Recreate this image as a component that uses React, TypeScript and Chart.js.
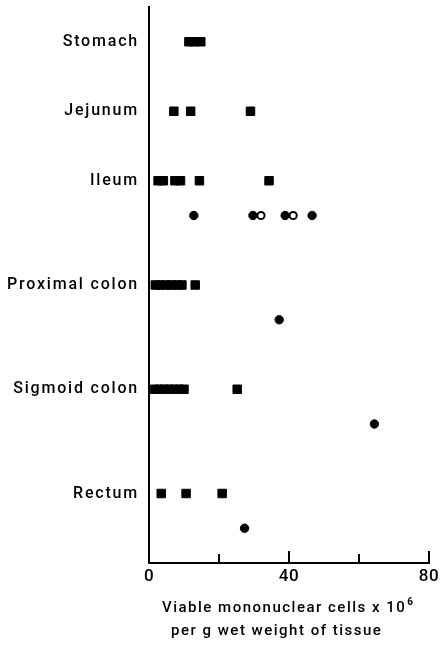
import { useEffect, useRef } from 'react';
import { Chart, registerables } from 'chart.js';

Chart.register(...registerables);

const categories = ['Stomach', 'Jejunum', 'Ileum', 'Proximal colon', 'Sigmoid colon', 'Rectum'];
const categoryRows = [1, 3, 5, 8, 11, 14];
const circleRowOffset = 1;

const squareValues = [
  [11.4, 12.9, 14.8],
  [7.1, 11.9, 29.0],
  [2.6, 4.1, 7.4, 9.0, 14.4, 34.3],
  [1.8, 3.2, 4.8, 6.4, 8.0, 9.4, 13.2],
  [1.6, 3.0, 4.4, 5.8, 7.2, 8.6, 10.0, 25.2],
  [3.5, 10.6, 20.9],
];
const filledCircleValues = [[], [], [12.8, 29.7, 38.9, 46.6], [37.2], [64.4], [27.3]];
const openCircleValues = [[], [], [32.0, 41.2], [], [], []];

const xTickValues = [0, 20, 40, 60, 80];
const xLabelValues = [0, 40, 80];
const axisTitleLine1 = 'Viable mononuclear cells x 10';
const axisTitleSup = '6';
const axisTitleLine2 = 'per g wet weight of tissue';

const FONT = 'Roboto, "DejaVu Sans", sans-serif';

const toPoints = (groups: number[][], offset: number) =>
  groups.flatMap((vals, i) => vals.map((v) => ({ x: v, y: categoryRows[i] + offset })));

const withSpacing = (s: any, spacing: string) => {
  const orig = s.drawLabels;
  if (orig.__wrapped) return;
  const wrapped = function (this: any, area: any) {
    const ctx = this.ctx;
    ctx.save();
    ctx.letterSpacing = spacing;
    orig.call(this, area);
    ctx.restore();
  };
  (wrapped as any).__wrapped = true;
  s.drawLabels = wrapped;
};

const decor = {
  id: 'decor',
  afterDraw(chart: any) {
    const ctx = chart.ctx as CanvasRenderingContext2D;
    const xs = chart.scales.x;
    const area = chart.chartArea;
    ctx.save();
    ctx.strokeStyle = '#000';
    ctx.lineWidth = 2;
    for (const v of xTickValues) {
      const px = Math.round(xs.getPixelForValue(v));
      const len = xLabelValues.includes(v) ? 12 : 9;
      ctx.beginPath();
      ctx.moveTo(px, area.bottom);
      ctx.lineTo(px, area.bottom - len);
      ctx.stroke();
    }
    ctx.fillStyle = '#000';
    ctx.textBaseline = 'middle';
    ctx.textAlign = 'left';
    (ctx as any).letterSpacing = '1.5px';
    ctx.font = `500 15px ${FONT}`;
    const tx = area.left + 13;
    ctx.fillText(axisTitleLine1, tx, area.bottom + 45);
    const w = ctx.measureText(axisTitleLine1).width;
    ctx.font = `bold 10px ${FONT}`;
    ctx.fillText(axisTitleSup, tx + w + 1, area.bottom + 39);
    ctx.font = `500 15px ${FONT}`;
    ctx.fillText(axisTitleLine2, area.left + 22, area.bottom + 68);
    ctx.restore();
  },
};

export default function App() {
  const ref = useRef<HTMLCanvasElement | null>(null);
  useEffect(() => {
    if (!ref.current) return;
    const chart = new Chart(ref.current, {
      type: 'scatter',
      data: {
        datasets: [
          {
            data: toPoints(squareValues, 0),
            pointStyle: 'rect',
            pointRadius: 6,
            backgroundColor: '#000',
            borderColor: '#000',
            borderWidth: 1,
            clip: false,
          },
          {
            data: toPoints(filledCircleValues, circleRowOffset),
            pointStyle: 'circle',
            pointRadius: 4.2,
            backgroundColor: '#000',
            borderColor: '#000',
            borderWidth: 1,
            clip: false,
          },
          {
            data: toPoints(openCircleValues, circleRowOffset),
            pointStyle: 'circle',
            pointRadius: 3.6,
            backgroundColor: '#fff',
            borderColor: '#000',
            borderWidth: 2,
            clip: false,
          },
        ],
      },
      options: {
        animation: false,
        responsive: true,
        maintainAspectRatio: false,
        layout: { padding: { top: 7, right: 15, left: 0, bottom: 0 } },
        plugins: { legend: { display: false }, tooltip: { enabled: false } },
        scales: {
          x: {
            type: 'linear',
            min: 0,
            max: 80,
            afterBuildTicks: (s: any) => {
              s.ticks = xLabelValues.map((v) => ({ value: v }));
            },
            afterFit: (s: any) => {
              s.height = 83;
              withSpacing(s, '0.5px');
            },
            grid: { display: false, drawTicks: false },
            border: { display: true, color: '#000', width: 2 },
            ticks: { color: '#000', font: { family: FONT, size: 17, weight: '500' }, padding: 4, maxRotation: 0 },
          },
          y: {
            type: 'linear',
            min: 0,
            max: 16,
            reverse: true,
            afterBuildTicks: (s: any) => {
              s.ticks = categoryRows.map((v) => ({ value: v }));
            },
            afterFit: (s: any) => {
              s.width = 149;
              s.paddingTop = 0;
              s.paddingBottom = 0;
              withSpacing(s, '1.8px');
            },
            grid: { display: false, drawTicks: false },
            border: { display: true, color: '#000', width: 2 },
            ticks: {
              color: '#000',
              font: { family: FONT, size: 16, weight: '500' },
              padding: 10,
              callback: (v: any) => {
                const i = categoryRows.indexOf(Number(v));
                return i >= 0 ? categories[i] : '';
              },
            },
          },
        },
      },
      plugins: [decor],
    });
    return () => chart.destroy();
  }, []);
  return (
    <div style={{ position: 'fixed', left: 0, top: 0, width: 444, height: 646 }}>
      <canvas ref={ref} />
    </div>
  );
}
